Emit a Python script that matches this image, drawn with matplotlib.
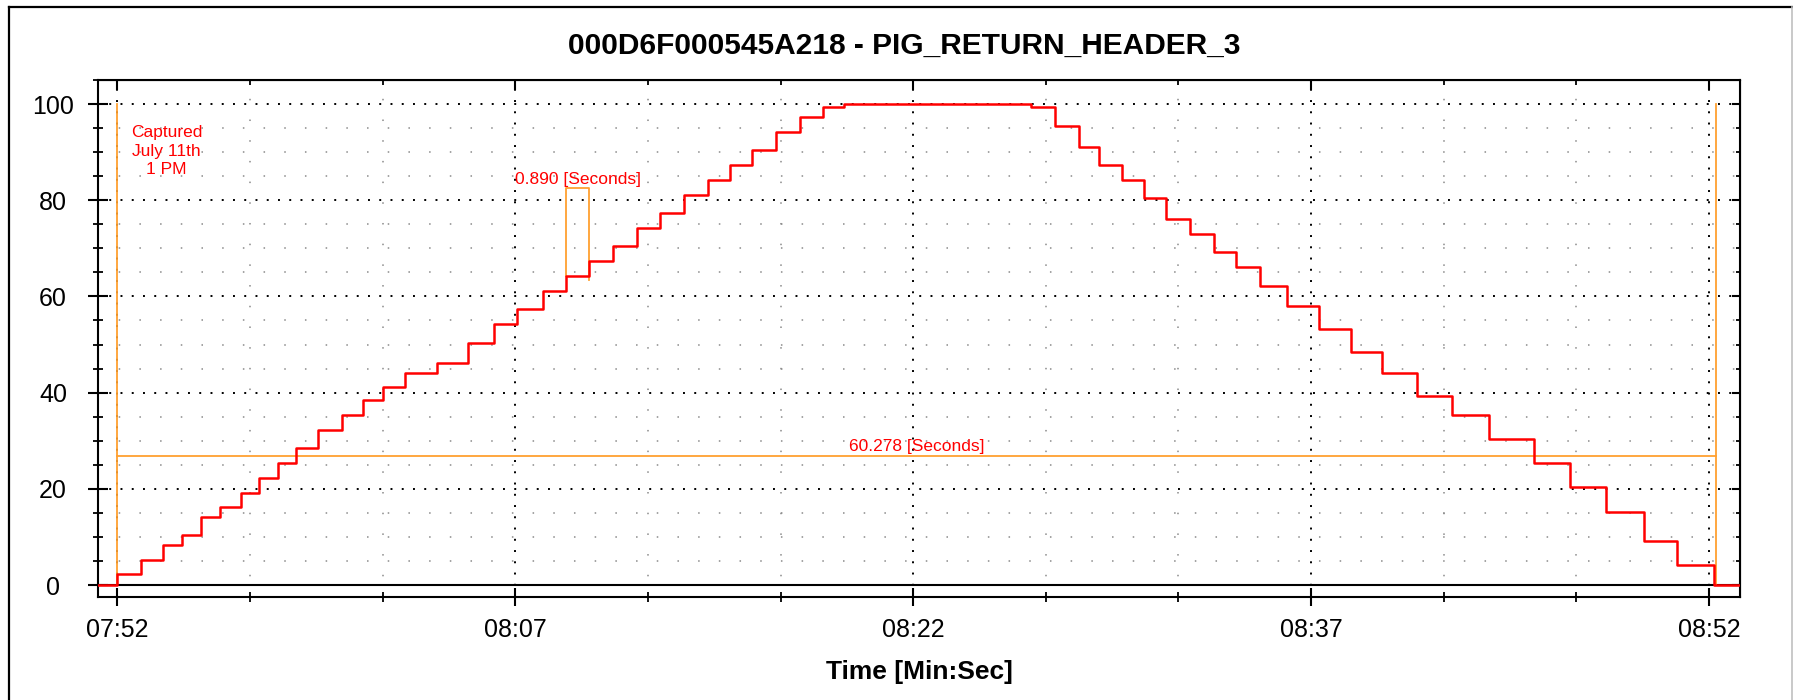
import matplotlib
matplotlib.use("Agg")
import matplotlib.pyplot as plt
from matplotlib.ticker import MultipleLocator, FuncFormatter
from matplotlib.lines import Line2D

plt.rcParams['font.family'] = ['Liberation Sans', 'DejaVu Sans']
plt.rcParams['lines.scale_dashes'] = False

TITLE = "000D6F000545A218 - PIG_RETURN_HEADER_3"
X_LABEL = "Time [Min:Sec]"
NOTE = "Captured\nJuly 11th\n1 PM"

T0 = 7 * 60 + 52          # 07:52, first labelled time (seconds)
X_RANGE = (-0.72, 61.17)  # visible window, seconds after T0
Y_RANGE = (-2.43, 105.0)

# step change instants (seconds after T0) and the level held from each one
step_times = [-0.72, 0.00, 0.88, 1.71, 2.43, 3.17, 3.88, 4.65, 5.35, 6.05,
              6.74, 7.58, 8.48, 9.25, 10.00, 10.84, 12.04, 13.21, 14.20, 15.08,
              16.06, 16.90, 17.79, 18.70, 19.60, 20.44, 21.36, 22.25, 23.09, 23.93,
              24.83, 25.73, 26.59, 27.40, 34.44, 35.36, 36.26, 37.01, 37.86, 38.70,
              39.53, 40.43, 41.35, 42.17, 43.08, 44.11, 45.31, 46.49, 47.68, 49.00,
              50.32, 51.72, 53.39, 54.78, 56.10, 57.56, 58.81, 60.19, 61.17]
step_levels = [0, 2.3, 5.2, 8.4, 10.4, 14.2, 16.2, 19.1, 22.2, 25.3,
               28.4, 32.2, 35.3, 38.4, 41.2, 44.1, 46.1, 50.3, 54.2, 57.3,
               61.1, 64.2, 67.3, 70.4, 74.3, 77.3, 81.1, 84.2, 87.3, 90.4,
               94.2, 97.3, 99.3, 100, 99.3, 95.4, 91.1, 87.3, 84.2, 80.4,
               76.2, 73.0, 69.2, 66.1, 62.2, 58.0, 53.2, 48.4, 44.1, 39.3,
               35.3, 30.4, 25.3, 20.3, 15.2, 9.2, 4.2, 0, 0]

# measurement cursors
cursor_start = 0.0
cursor_span = 60.278
cursor_level = 26.9
cursor_height = 100.0
pulse_start = 16.90
pulse_width = 0.890
pulse_top = 82.5
pulse_low_left = 64.2
pulse_low_right = 63.4
note_pos = (1.86, 90.2)

RED = '#ff0000'
ORANGE = '#ffa030'

fig = plt.figure(figsize=(17.93, 7.0), dpi=100)
ax = fig.add_axes([0.05483, 0.14757, 0.91561, 0.73814])

t = [T0 + s for s in step_times]
ax.step(t, step_levels, where='post', color=RED, lw=1.8, zorder=5)

# cursors
c0 = T0 + cursor_start
c1 = T0 + cursor_start + cursor_span
ax.plot([c0, c0], [0, cursor_height], color=ORANGE, lw=1.3, zorder=4)
ax.plot([c1, c1], [0, cursor_height], color=ORANGE, lw=1.3, zorder=4)
ax.plot([c0, c1], [cursor_level, cursor_level], color=ORANGE, lw=1.3, zorder=4)
ax.text((c0 + c1) / 2, cursor_level + 0.3, f"{cursor_span:.3f} [Seconds]",
        color=RED, fontsize=12.5, ha='center', va='bottom', zorder=6)

p0 = T0 + pulse_start
p1 = p0 + pulse_width
ax.plot([p0, p0, p1, p1], [pulse_low_left, pulse_top, pulse_top, pulse_low_right],
        color=ORANGE, lw=1.3, zorder=4)
ax.text((p0 + p1) / 2, pulse_top + 0.3, f"{pulse_width:.3f} [Seconds]",
        color=RED, fontsize=12.5, ha='center', va='bottom', zorder=6)

ax.text(T0 + note_pos[0], note_pos[1], NOTE, color=RED, fontsize=12.5,
        ha='center', va='center', multialignment='center', linespacing=1.3)

ax.axhline(0, color='black', lw=1.5, zorder=3)

ax.set_xlim(T0 + X_RANGE[0], T0 + X_RANGE[1])
ax.set_ylim(*Y_RANGE)

def mmss(v, pos=None):
    v = int(round(v))
    return f"{v // 60:02d}:{v % 60:02d}"

ax.xaxis.set_major_locator(MultipleLocator(15, offset=T0 % 15))
ax.xaxis.set_minor_locator(MultipleLocator(5, offset=T0 % 5))
ax.xaxis.set_major_formatter(FuncFormatter(mmss))
ax.yaxis.set_major_locator(MultipleLocator(20))
ax.yaxis.set_minor_locator(MultipleLocator(5))

for side in ax.spines.values():
    side.set_linewidth(1.5)

ax.tick_params(axis='x', which='major', direction='inout', length=13, width=1.5,
               labelsize=18, pad=9, top=False)
ax.tick_params(axis='x', which='minor', direction='inout', length=7, width=1.3, top=False)
ax.tick_params(axis='y', which='major', direction='inout', length=15, width=1.5,
               labelsize=18, pad=25, right=False)
ax.tick_params(axis='y', which='minor', direction='inout', length=7, width=1.3, right=False)
for lab in ax.get_yticklabels():
    lab.set_horizontalalignment('center')

# inward ticks on top and right
top = ax.secondary_xaxis('top')
top.xaxis.set_major_locator(MultipleLocator(15, offset=T0 % 15))
top.xaxis.set_minor_locator(MultipleLocator(5, offset=T0 % 5))
top.tick_params(which='major', direction='in', length=7, width=1.5, labeltop=False)
top.tick_params(which='minor', direction='in', length=3.6, width=1.3)
right = ax.secondary_yaxis('right')
right.yaxis.set_major_locator(MultipleLocator(20))
right.yaxis.set_minor_locator(MultipleLocator(5))
right.tick_params(which='major', direction='in', length=6, width=1.5, labelright=False)
right.tick_params(which='minor', direction='in', length=3, width=1.3)

# dotted grid
ax.grid(which='major', color='black', lw=1.4, linestyle=(0, (1.4, 6.7)), zorder=1)
ax.grid(which='minor', color='#8a8a8a', lw=1.1, linestyle=(0, (1.1, 13.8)), zorder=1)
ax.set_axisbelow(True)

ax.set_xlabel(X_LABEL, fontsize=19, fontweight='bold')
ax.xaxis.set_label_coords(0.5, -0.122)
ax.xaxis.label.set_verticalalignment('top')

fig.text(0.5045, 1 - 45.7 / 700, TITLE, fontsize=21.5, fontweight='bold',
         ha='center', va='center')

# window frame
fx = 9.3 / 1793
fy = 1 - 7.3 / 700
fig.add_artist(Line2D([fx, fx], [0, fy], transform=fig.transFigure, color='black', lw=1.6))
fig.add_artist(Line2D([fx, 1], [fy, fy], transform=fig.transFigure, color='black', lw=1.6))
fig.add_artist(Line2D([1791.5 / 1793] * 2, [0, fy], transform=fig.transFigure,
                      color='#c0c0c0', lw=1.2))

fig.savefig("out.png", dpi=100)
